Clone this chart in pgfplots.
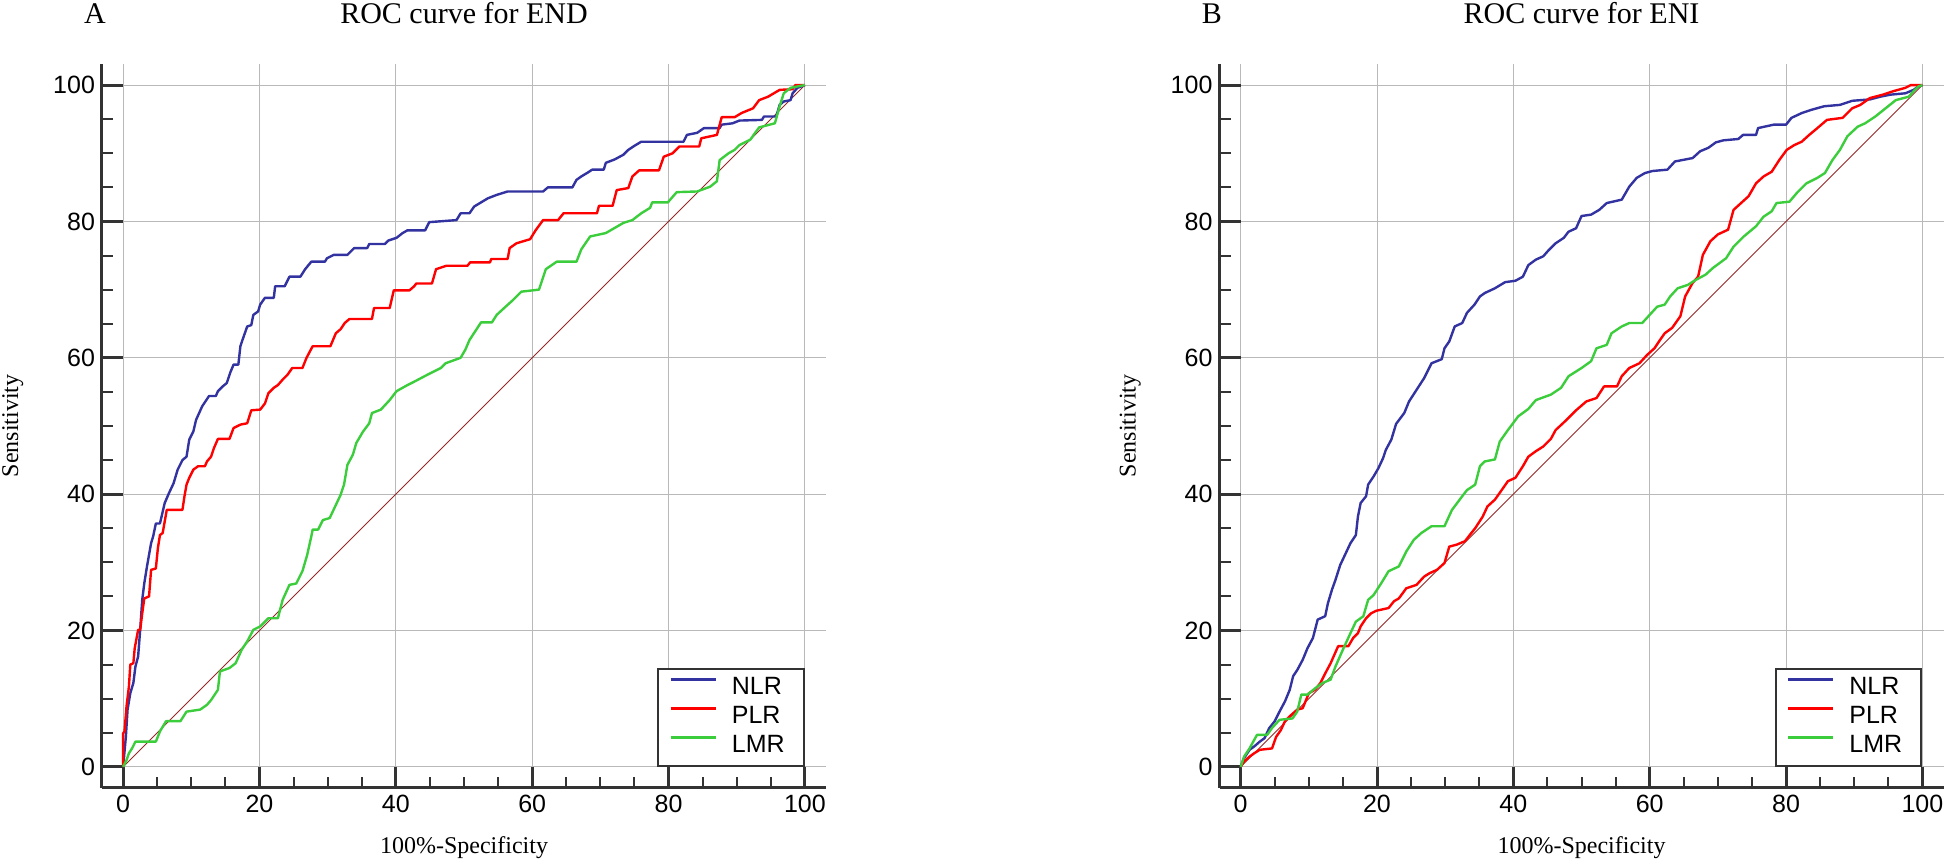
\documentclass[border=0pt]{standalone}
\usepackage{fontspec}
\setmainfont{Liberation Serif}
\newfontfamily\sansf{Liberation Sans}
\usepackage{pgfplots}
\pgfplotsset{compat=1.18}
\definecolor{axisgray}{RGB}{51,51,51}
\definecolor{gridgray}{RGB}{185,185,185}
\definecolor{nlr}{RGB}{50,50,160}
\definecolor{plr}{RGB}{255,0,0}
\definecolor{lmr}{RGB}{60,205,60}
\definecolor{diag}{RGB}{150,40,40}
\pgfplotsset{
  rocstyle/.style={
    scale only axis, width=362pt, height=362pt,
    xmin=-3.1, xmax=103.1, ymin=-3.1, ymax=103.1,
    axis lines=left,
    axis line style={-, draw=axisgray, line width=1.5pt},
    xtick={0,20,...,100}, ytick={0,20,...,100},
    minor tick num=3,
    tick align=inside,
    major tick length=10.5pt, minor tick length=5.5pt,
    major tick style={draw=axisgray, line width=1.5pt},
    minor tick style={draw=axisgray, line width=1pt},
    grid=major,
    major grid style={draw=gridgray, line width=0.5pt},
    /pgf/number format/assume math mode=true,
    tick label style={font=\sansf\fontsize{12.5}{15}\selectfont},
    xlabel={100\%-Specificity}, ylabel={Sensitivity},
    label style={font=\fontsize{12}{14}\selectfont},
    xlabel style={at={(axis description cs:0.5,-0.0898)}, anchor=base},
    ylabel style={at={(axis description cs:-0.116,0.5)}, anchor=base, rotate=0},
    title style={at={(axis description cs:0.5,1.04)}, anchor=base, font=\fontsize{15}{18}\selectfont},
    clip=false,
    legend cell align=left,
    legend image code/.code={\draw[##1] (0pt,4.5pt) -- (22.5pt,4.5pt);},
    legend style={at={(axis cs:100,0)}, anchor=south east, draw=axisgray, line width=1pt, fill=white,
      inner xsep=5.5pt, inner ysep=4pt, column sep=7.5pt, row sep=3pt,
      font=\sansf\fontsize{12.5}{15}\selectfont,
      nodes={inner sep=0pt, text height=9pt, text depth=2.5pt}},
    every axis plot/.append style={line width=1.2pt, line join=round},
  }
}
\begin{document}
\begin{tikzpicture}
\useasboundingbox (0,0) rectangle (973pt,430pt);
\begin{axis}[rocstyle, at={(51pt,36pt)}, anchor=south west, title={ROC curve for END}]
\addplot[diag, line width=0.5pt, forget plot] coordinates {(0,0) (100,100)};
\addplot[nlr] coordinates {(0,0) (0.4,4.4) (0.65,8.4) (1.05,10.8) (1.5,12.3) (1.8,14.7) (2.2,16.2) (2.5,20.1) (2.8,24.5) (3.1,26.9) (3.5,29.4) (4.1,32.8) (4.4,33.8) (4.8,35.7) (5.4,35.7) (6.1,38.7) (6.7,40.1) (7.4,41.6) (8.0,43.6) (8.7,45.0) (9.3,45.5) (9.7,48.0) (10.3,49.2) (10.7,50.9) (11.6,52.9) (12.6,54.4) (13.6,54.4) (13.9,55.1) (14.6,55.8) (15.2,56.3) (15.7,57.8) (16.2,59.0) (16.9,59.0) (17.2,61.7) (17.5,62.6) (18.2,64.6) (18.8,64.8) (19.1,66.3) (19.8,66.8) (20.1,67.8) (20.8,68.8) (22.1,68.8) (22.3,70.5) (23.7,70.5) (24.4,71.9) (26.0,71.9) (26.7,73.0) (27.6,74.1) (29.6,74.1) (29.9,74.6) (30.9,75.1) (32.9,75.1) (33.9,76.1) (35.8,76.1) (36.1,76.7) (38.4,76.7) (38.9,77.2) (40.1,77.6) (41.0,78.3) (41.7,78.7) (44.3,78.7) (44.9,79.9) (48.9,80.2) (49.5,81.2) (50.8,81.2) (51.5,82.2) (52.5,82.8) (53.5,83.4) (54.8,83.9) (56.4,84.4) (61.6,84.4) (62.3,85.0) (65.9,85.0) (66.5,86.1) (67.2,86.6) (68.2,87.2) (68.8,87.6) (70.5,87.6) (70.8,88.6) (72.1,89.1) (73.4,89.8) (74.1,90.5) (75.0,91.1) (76.0,91.7) (82.2,91.7) (82.7,92.7) (84.2,93.0) (85.2,93.7) (87.5,93.7) (87.8,94.2) (89.4,94.4) (90.4,94.8) (93.7,94.9) (94.0,95.4) (95.8,95.4) (96.3,97.1) (96.9,97.6) (97.9,97.8) (98.2,98.8) (98.9,99.6) (100,100)};
\addlegendentry{\makebox[30.5pt][l]{NLR}}
\addplot[plr] coordinates {(0,0) (0,4.9) (0.2,5.2) (0.5,8.9) (0.85,11.8) (1.05,15.0) (1.5,15.2) (1.7,17.4) (2.2,20.1) (2.5,20.1) (2.8,22.5) (3.1,24.7) (3.8,25.0) (4.1,28.9) (4.8,29.1) (5.1,32.1) (5.4,34.0) (5.8,34.3) (6.4,37.7) (8.7,37.7) (9.0,39.7) (9.3,41.4) (9.7,42.4) (10.3,43.6) (11.0,44.1) (12.0,44.1) (12.3,44.8) (12.9,45.5) (13.3,46.7) (13.9,48.1) (15.6,48.1) (16.2,49.7) (17.2,50.2) (18.2,50.4) (18.8,52.3) (20.1,52.4) (20.8,53.3) (21.3,54.8) (22.1,55.6) (22.7,56.0) (23.4,56.8) (24.1,57.5) (24.8,58.5) (26.3,58.5) (26.9,60.0) (27.8,61.7) (30.4,61.7) (31.2,63.6) (31.9,64.2) (32.5,65.1) (33.2,65.7) (36.5,65.7) (36.8,67.3) (39.1,67.3) (39.7,69.9) (42.0,69.9) (42.7,70.5) (43.0,70.9) (45.3,70.9) (45.9,73.0) (47.4,73.5) (50.5,73.5) (50.9,74.0) (53.8,74.0) (54.0,74.5) (56.4,74.5) (56.7,76.1) (57.7,76.8) (59.7,77.4) (60.5,78.7) (61.6,80.2) (63.8,80.2) (64.6,81.2) (69.5,81.2) (69.8,82.3) (71.8,82.3) (72.4,84.6) (74.1,84.9) (74.7,86.6) (75.7,87.5) (78.6,87.5) (79.3,89.5) (80.6,90.0) (81.6,91.0) (84.5,91.0) (84.8,92.2) (87.1,92.7) (87.8,95.3) (89.7,95.3) (90.7,95.9) (92.4,96.6) (93.3,97.8) (94.6,98.3) (96.3,99.3) (98.2,99.4) (98.6,100) (100,100)};
\addlegendentry{\makebox[30.5pt][l]{PLR}}
\addplot[lmr] coordinates {(0,0) (0.5,1.0) (0.85,2.0) (1.3,2.7) (1.8,3.7) (4.8,3.7) (5.4,5.2) (6.3,6.7) (8.4,6.7) (9.3,8.1) (11.3,8.4) (12.3,9.1) (12.9,9.8) (13.9,11.3) (14.2,14.0) (15.6,14.5) (16.5,15.2) (17.4,17.2) (18.2,18.4) (19.1,20.1) (20.1,20.6) (21.3,21.8) (22.7,21.8) (23.4,24.5) (24.4,26.7) (25.4,26.9) (26.3,28.7) (27.0,31.1) (27.6,33.8) (27.8,34.8) (28.6,34.8) (29.3,36.2) (30.3,36.5) (31.1,38.2) (31.9,39.9) (32.4,41.4) (32.9,44.3) (33.7,45.8) (34.2,47.5) (35.2,49.2) (36.1,50.4) (36.5,51.9) (37.8,52.4) (39.1,53.8) (40.1,55.1) (41.7,56.0) (42.7,56.5) (44.6,57.5) (46.6,58.5) (47.3,59.2) (49.5,60.0) (50.2,61.2) (50.8,62.6) (52.5,65.2) (54.1,65.2) (54.8,66.3) (56.1,67.5) (57.1,68.4) (58.4,69.7) (61.0,70.0) (62.0,73.0) (63.6,74.1) (66.5,74.1) (67.2,75.9) (68.5,77.8) (70.8,78.3) (73.4,79.8) (74.7,80.2) (76.0,81.2) (77.3,82.0) (77.6,82.8) (79.9,82.8) (81.2,84.3) (84.2,84.4) (86.1,85.1) (87.1,85.9) (87.5,89.0) (88.8,90.0) (89.7,90.5) (90.4,91.2) (92.0,92.0) (92.7,93.0) (93.3,93.8) (95.6,94.4) (96.3,96.9) (96.9,98.8) (97.9,99.6) (98.9,99.8) (100,100)};
\addlegendentry{\makebox[30.5pt][l]{LMR}}
\node[anchor=base, font=\fontsize{15}{18}\selectfont] at (axis description cs:-0.00967,1.0566) {A};
\end{axis}
\begin{axis}[rocstyle, at={(609.75pt,36pt)}, anchor=south west, title={ROC curve for ENI}]
\addplot[diag, line width=0.5pt, forget plot] coordinates {(0,0) (100,100)};
\addplot[nlr] coordinates {(0,0) (0.5,1.3) (1.3,2.5) (2.0,3.0) (2.8,3.7) (3.5,4.2) (4.2,5.7) (5.0,6.7) (5.7,8.1) (6.5,9.6) (7.2,11.3) (7.7,13.3) (8.3,14.2) (9.1,15.7) (9.8,17.4) (10.6,18.9) (11.3,21.6) (12.4,22.1) (12.8,24.0) (13.4,26.0) (13.9,27.4) (14.6,29.6) (15.4,31.3) (16.1,32.8) (16.9,34.0) (17.2,36.7) (17.6,38.7) (18.4,39.7) (18.7,41.4) (19.5,42.6) (20.2,43.8) (20.9,45.3) (21.3,46.5) (22.1,48.0) (22.8,50.3) (24.0,51.9) (24.7,53.6) (25.8,55.3) (26.9,57.0) (28.0,59.2) (29.5,59.8) (29.9,61.4) (30.6,62.4) (31.4,64.6) (32.5,65.1) (33.2,66.6) (34.3,67.8) (35.1,69.0) (35.8,69.5) (37.3,70.2) (38.8,71.1) (40.3,71.3) (41.4,71.9) (42.2,73.6) (43.3,74.4) (44.4,74.9) (45.1,75.7) (46.2,76.8) (47.4,77.6) (48.1,78.5) (49.2,79.0) (50.0,80.8) (51.4,81.0) (52.6,81.7) (53.7,82.7) (55.9,83.2) (57.0,85.1) (58.1,86.4) (59.3,87.1) (60.4,87.4) (62.6,87.6) (63.7,88.8) (66.3,89.3) (67.4,90.3) (68.6,90.8) (69.7,91.6) (70.8,91.9) (73.0,92.1) (73.7,92.7) (75.6,92.7) (75.9,93.7) (78.2,94.2) (80.0,94.2) (80.8,95.2) (82.3,95.9) (83.8,96.4) (85.6,96.9) (87.9,97.1) (89.7,97.7) (92.3,97.9) (93.8,98.3) (95.3,98.6) (97.5,98.8) (98.7,99.3) (99.4,99.8) (100,100)};
\addlegendentry{\makebox[30.5pt][l]{NLR}}
\addplot[plr] coordinates {(0,0) (0.5,0.8) (1.3,1.5) (2.0,2.0) (2.8,2.5) (4.6,2.7) (5.2,4.4) (5.9,5.4) (6.5,6.7) (7.4,7.6) (8.3,8.4) (9.1,8.6) (10.0,10.8) (10.9,11.3) (11.7,12.3) (12.4,13.7) (13.2,15.2) (14.3,17.7) (15.8,17.7) (16.5,18.9) (17.2,19.6) (17.6,20.6) (18.4,21.8) (19.1,22.5) (19.9,22.9) (21.7,23.3) (22.5,24.3) (23.2,24.7) (24.3,26.2) (25.8,26.7) (26.9,27.9) (27.7,28.4) (28.8,28.9) (29.9,29.9) (30.6,32.3) (31.7,32.6) (32.9,33.1) (33.6,34.0) (34.4,35.0) (35.5,36.7) (36.2,38.2) (37.3,39.2) (38.5,40.9) (39.2,41.9) (40.3,42.4) (41.4,44.1) (42.2,45.5) (43.3,46.3) (44.4,47.0) (45.5,48.1) (46.2,49.4) (47.7,50.8) (49.2,52.3) (50.7,53.6) (52.2,54.1) (53.3,55.8) (55.2,55.8) (55.9,57.3) (57.0,58.5) (58.5,59.2) (59.6,60.4) (60.7,61.4) (61.5,62.6) (62.2,63.6) (63.3,64.4) (64.5,66.1) (65.2,69.0) (66.3,71.0) (67.1,71.9) (67.8,75.1) (68.9,77.1) (70.0,78.1) (71.5,78.8) (72.3,81.7) (73.4,82.7) (74.5,83.7) (75.6,85.6) (76.7,86.6) (77.9,87.3) (79.0,89.0) (80.1,90.5) (81.2,91.2) (82.3,91.7) (83.4,92.7) (84.6,93.7) (86.0,94.9) (88.3,95.2) (89.7,96.6) (90.9,97.1) (92.3,98.1) (94.2,98.6) (95.7,99.1) (97.5,99.6) (98.3,100) (100,100)};
\addlegendentry{\makebox[30.5pt][l]{PLR}}
\addplot[lmr] coordinates {(0,0) (0.5,1.5) (1.3,2.7) (2.4,4.7) (3.9,4.7) (4.6,5.7) (5.7,6.9) (7.6,7.1) (8.3,8.1) (8.9,10.6) (9.8,10.6) (10.9,11.5) (12.0,12.3) (13.2,12.8) (13.9,14.7) (15.0,17.2) (16.1,19.6) (16.9,21.3) (18.0,22.1) (18.7,24.5) (19.5,25.2) (20.6,26.9) (21.7,28.7) (23.2,29.4) (24.3,31.6) (25.4,33.3) (26.5,34.3) (28.0,35.3) (29.9,35.3) (31.0,37.7) (32.5,39.7) (33.2,40.6) (34.4,41.4) (35.1,44.1) (35.8,44.8) (37.3,45.1) (38.0,47.7) (39.2,49.4) (40.7,51.4) (42.2,52.5) (43.3,53.8) (45.5,54.6) (47.0,55.6) (48.1,57.3) (50.0,58.5) (51.4,59.5) (52.2,61.4) (53.7,61.9) (54.4,63.6) (55.9,64.6) (57.0,65.1) (58.9,65.1) (60.0,66.3) (61.1,67.5) (62.2,67.8) (63.0,69.0) (64.1,70.2) (65.6,70.7) (66.7,71.4) (68.2,72.2) (69.3,73.2) (71.2,74.6) (72.3,76.3) (73.8,77.8) (75.6,79.3) (76.7,80.7) (77.9,81.5) (78.6,82.7) (80.5,82.9) (81.6,84.2) (83.0,85.6) (84.6,86.4) (85.7,87.1) (86.8,89.0) (87.9,90.5) (89.0,92.5) (90.5,93.9) (91.6,94.4) (93.1,95.4) (94.6,96.6) (96.1,97.8) (98.0,98.3) (98.7,99.1) (99.4,99.8) (100,100)};
\addlegendentry{\makebox[30.5pt][l]{LMR}}
\node[anchor=base, font=\fontsize{15}{18}\selectfont] at (axis description cs:-0.0104,1.0566) {B};
\end{axis}
\end{tikzpicture}
\end{document}
